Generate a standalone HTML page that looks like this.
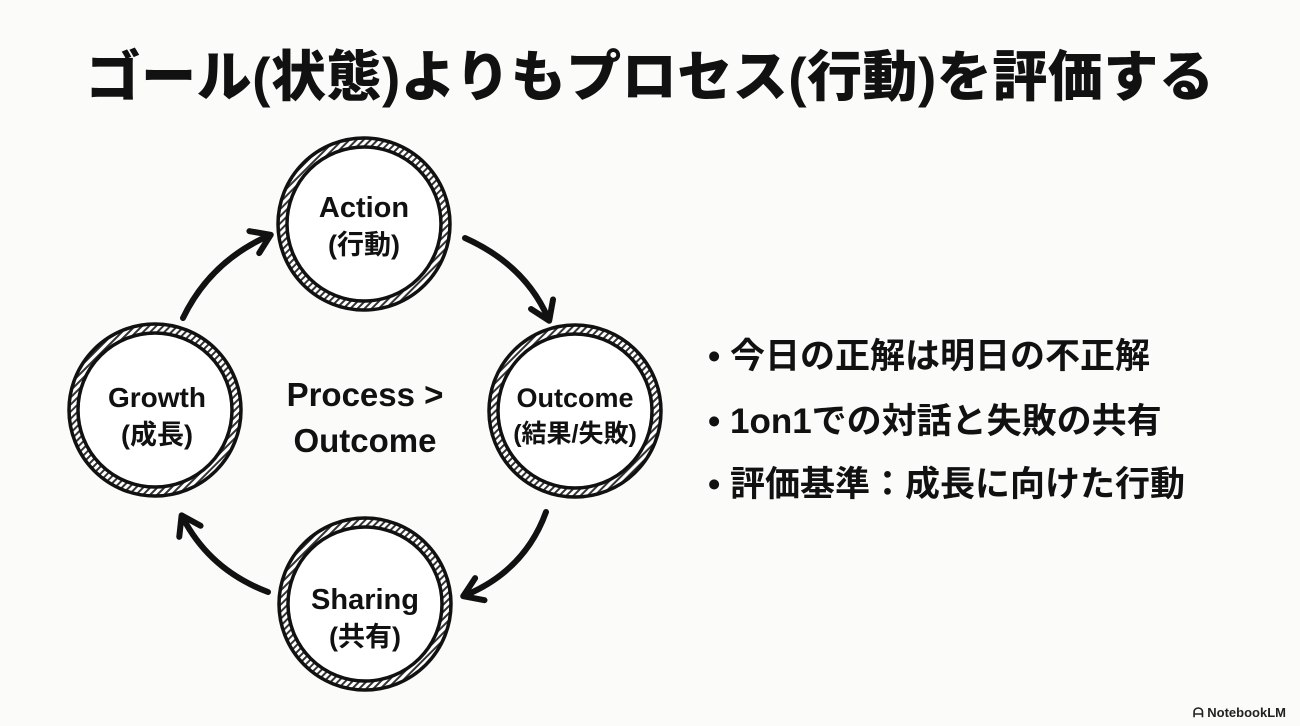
<!DOCTYPE html>
<html><head><meta charset="utf-8"><style>
html,body{margin:0;padding:0;}
body{width:1300px;height:726px;background:#fbfbf9;position:relative;overflow:hidden;font-family:"Liberation Sans","Noto Sans CJK JP",sans-serif;color:#111;}
.t{position:absolute;left:0;width:1300px;top:32px;text-align:center;font-size:55px;font-weight:900;letter-spacing:0.5px;}
.b{position:absolute;left:708px;font-size:35px;font-weight:700;}
svg{position:absolute;left:0;top:0;}
.lbl{font-family:"Liberation Sans","Noto Sans CJK JP",sans-serif;font-weight:700;fill:#111;text-anchor:middle;}
.wm{position:absolute;right:14px;bottom:5px;font-size:13px;font-weight:700;color:#222;}
</style></head><body>
<div class="t">ゴール(状態)よりもプロセス(行動)を評価する</div>
<svg width="1300" height="726">
<defs>
<pattern id="h" width="5" height="5" patternUnits="userSpaceOnUse" patternTransform="rotate(45)">
<rect width="5" height="5" fill="#fff"/><rect width="2" height="5" fill="#333"/></pattern>
<marker id="a" viewBox="0 0 10 10" refX="6" refY="5" markerWidth="5" markerHeight="5" orient="auto"><path d="M1,1 L7,5 L1,9" fill="none" stroke="#111" stroke-width="2" stroke-linecap="round" stroke-linejoin="round"/></marker>
</defs>
<g stroke="#111">
<circle cx="364" cy="224" r="86" fill="url(#h)" stroke-width="3.5"/><circle cx="364" cy="224" r="77" fill="#fff" stroke-width="3.5"/>
<circle cx="575" cy="411" r="86" fill="url(#h)" stroke-width="3.5"/><circle cx="575" cy="411" r="77" fill="#fff" stroke-width="3.5"/>
<circle cx="155" cy="410" r="86" fill="url(#h)" stroke-width="3.5"/><circle cx="155" cy="410" r="77" fill="#fff" stroke-width="3.5"/>
<circle cx="365" cy="604" r="86" fill="url(#h)" stroke-width="3.5"/><circle cx="365" cy="604" r="77" fill="#fff" stroke-width="3.5"/>
<g fill="none" stroke-width="6" stroke-linecap="round" marker-end="url(#a)">
<path d="M465,238 Q525,265 548,318"/>
<path d="M546,512 Q525,570 466,595"/>
<path d="M268,592 Q210,570 183,518"/>
<path d="M183,318 Q210,262 268,236"/>
</g>
</g>
<text class="lbl" x="364" y="217" font-size="29">Action</text>
<text class="lbl" x="364" y="254" font-size="27">(行動)</text>
<text class="lbl" x="575" y="407" font-size="27">Outcome</text>
<text class="lbl" x="575" y="442" font-size="25">(結果/失敗)</text>
<text class="lbl" x="157" y="407" font-size="28">Growth</text>
<text class="lbl" x="157" y="444" font-size="27">(成長)</text>
<text class="lbl" x="365" y="609" font-size="29">Sharing</text>
<text class="lbl" x="365" y="646" font-size="27">(共有)</text>
<text class="lbl" x="365" y="406" font-size="33">Process &gt;</text>
<text class="lbl" x="365" y="452" font-size="33">Outcome</text>
</svg>
<div class="b" style="top:328px">• 今日の正解は明日の不正解</div>
<div class="b" style="top:393px">• 1on1での対話と失敗の共有</div>
<div class="b" style="top:456px">• 評価基準：成長に向けた行動</div>
<div class="wm">ᗩ NotebookLM</div>
</body></html>
